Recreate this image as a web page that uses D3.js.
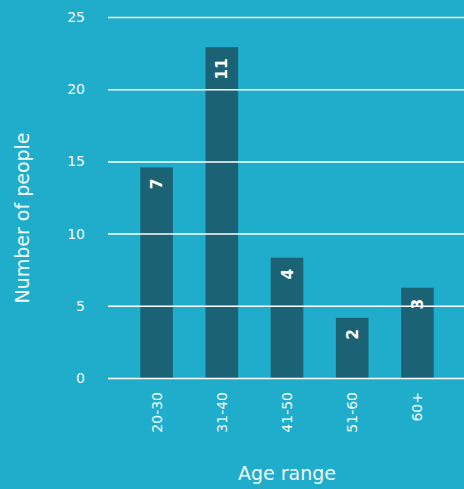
<!DOCTYPE html>
<html>
<head>
<meta charset="utf-8">
<script src="https://cdn.jsdelivr.net/npm/d3@7/dist/d3.min.js"></script>
<style>
  html, body { margin: 0; padding: 0; background: #1fadcb; }
  svg { display: block; }
  text { font-family: "DejaVu Sans", sans-serif; }
</style>
</head>
<body>
<script>
// Age groups and head counts
const ageRanges = ["20-30", "31-40", "41-50", "51-60", "60+"];
const peopleCounts = [7, 11, 4, 2, 3];
// Labels printed along the value axis (six evenly spaced gridlines)
const yTickLabels = ["0", "5", "10", "15", "20", "25"];
const yMax = 12;

const width = 464, height = 489;
const bg = "#1fadcb", barColor = "#1b6275", ink = "#f2fafc";

const svg = d3.select("body").append("svg")
  .attr("width", width).attr("height", height);

svg.append("rect").attr("width", width).attr("height", height).attr("fill", bg);

const x = d3.scaleBand()
  .domain(ageRanges)
  .range([124, 450])
  .paddingInner(0.5)
  .paddingOuter(0.25);

const y = d3.scaleLinear().domain([0, yMax]).range([378, 17]);

const tickVals = yTickLabels.map((_, i) => i * yMax / (yTickLabels.length - 1));

// Bars
svg.append("g").selectAll("rect")
  .data(peopleCounts)
  .join("rect")
  .attr("x", (d, i) => x(ageRanges[i]))
  .attr("width", x.bandwidth())
  .attr("y", d => y(d))
  .attr("height", d => y(0) - y(d))
  .attr("fill", barColor);

// Gridlines over bars, with left-hand labels
const yAxis = d3.axisLeft(y)
  .tickValues(tickVals)
  .tickFormat((d, i) => yTickLabels[i])
  .tickSize(-(width - 108))
  .tickPadding(23);

const gy = svg.append("g").attr("transform", "translate(108,0)").call(yAxis);
gy.select(".domain").remove();
gy.selectAll(".tick line").attr("stroke", "#ffffff").attr("stroke-width", 1.5);
gy.selectAll(".tick text").attr("fill", ink).attr("font-size", 14)
  .attr("font-family", "DejaVu Sans");

// Category labels, rotated
const xAxis = d3.axisBottom(x).tickSize(0).tickPadding(0);
const gx = svg.append("g").attr("transform", "translate(0,378)").call(xAxis);
gx.select(".domain").remove();
gx.selectAll(".tick text")
  .attr("fill", ink)
  .attr("font-size", 14)
  .attr("font-family", "DejaVu Sans")
  .attr("text-anchor", "end")
  .attr("transform", "rotate(-90)")
  .attr("x", -14)
  .attr("y", 0)
  .attr("dy", "0.35em");

// Value labels inside bar tops
svg.append("g").selectAll("text")
  .data(peopleCounts)
  .join("text")
  .attr("transform", (d, i) =>
    `translate(${x(ageRanges[i]) + x.bandwidth() / 2},${y(d) + 11}) rotate(-90)`)
  .attr("text-anchor", "end")
  .attr("dy", "0.36em")
  .attr("fill", "#ffffff")
  .attr("font-weight", "bold")
  .attr("font-size", 15.5)
  .text(d => d);

// Axis titles
svg.append("text")
  .attr("x", 287).attr("y", 480)
  .attr("text-anchor", "middle")
  .attr("fill", ink)
  .attr("font-size", 19)
  .text("Age range");

svg.append("text")
  .attr("transform", "translate(29,218) rotate(-90)")
  .attr("text-anchor", "middle")
  .attr("fill", ink)
  .attr("font-size", 19)
  .text("Number of people");
</script>
</body>
</html>
